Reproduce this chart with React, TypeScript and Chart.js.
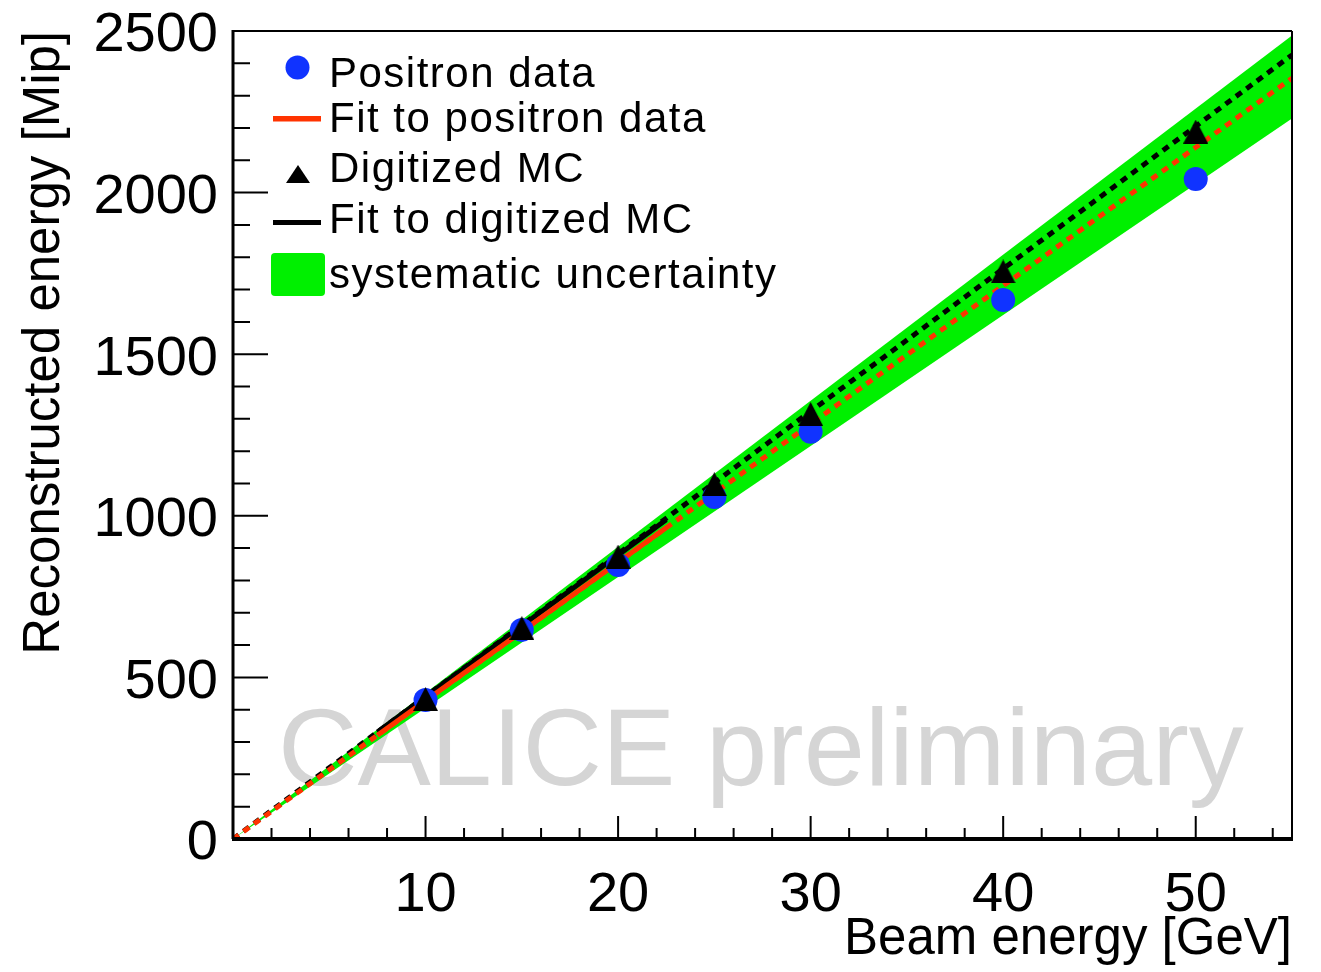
import React, { useEffect, useRef } from 'react';
import { Chart, registerables } from 'chart.js';

Chart.register(...registerables);

// ---- data ----
const beamEnergy = [10, 15, 20, 25, 30, 40, 50];
const positronData = [430, 647, 848, 1058, 1260, 1668, 2042];
const mcData = [433, 653, 874, 1098, 1315, 1756, 2189];

// fit lines (end points)
const fitSolidX = [7.5, 22.5];
const positronFitSolid = [321, 963];
const mcFitSolid = [331, 988];
const fitExtrapX = [0, 55];
const positronFitExtrap = [0, 2354];
const mcFitExtrap = [0, 2426];

// systematic uncertainty band (edges)
const bandX = [0, 55];
const bandUpper = [0, 2486];
const bandLower = [0, 2229];

const xMin = 0;
const xMax = 55;
const yMin = 0;
const yMax = 2500;
const xMajorStep = 10;
const xMinorStep = 2;
const yMajorStep = 500;
const yMinorStep = 100;

const legendLabels = [
  'Positron data',
  'Fit to positron data',
  'Digitized MC',
  'Fit to digitized MC',
  'systematic uncertainty',
];
const xTitle = 'Beam energy [GeV]';
const yTitle = 'Reconstructed energy [Mip]';
const watermark = 'CALICE preliminary';

const FONT = '"Liberation Sans", Arial, Helvetica, sans-serif';
const BLUE = '#1033ff';
const RED = '#ff3300';
const GREEN = '#00f000';

const pts = (xs: number[], ys: number[]) => xs.map((x, i) => ({ x, y: ys[i] }));

function makeTriangle(): HTMLCanvasElement {
  const c = document.createElement('canvas');
  c.width = 25;
  c.height = 24;
  const g = c.getContext('2d')!;
  g.fillStyle = '#000';
  g.beginPath();
  g.moveTo(12.5, 0);
  g.lineTo(25, 24);
  g.lineTo(0, 24);
  g.closePath();
  g.fill();
  return c;
}

const decorPlugin = {
  id: 'rootDecor',
  beforeDatasetsDraw(chart: any) {
    const { ctx, chartArea } = chart;
    ctx.save();
    ctx.font = `110px ${FONT}`;
    ctx.fillStyle = '#d5d5d5';
    ctx.textBaseline = 'alphabetic';
    ctx.textAlign = 'left';
    ctx.fillText(watermark, chartArea.left + 45, chartArea.bottom - 54);
    ctx.restore();
  },
  afterDatasetsDraw(chart: any) {
    const { ctx, chartArea } = chart;
    const xs = chart.scales.x;
    const ys = chart.scales.y;
    const { left, right, top, bottom } = chartArea;
    ctx.save();
    ctx.strokeStyle = '#000';
    ctx.lineCap = 'butt';
    // ticks
    ctx.lineWidth = 2;
    ctx.beginPath();
    for (let v = yMin + yMinorStep; v < yMax; v += yMinorStep) {
      const p = ys.getPixelForValue(v);
      const len = v % yMajorStep === 0 ? 35 : 17;
      ctx.moveTo(left, p);
      ctx.lineTo(left + len, p);
    }
    for (let v = xMin + xMinorStep; v < xMax; v += xMinorStep) {
      const p = xs.getPixelForValue(v);
      const len = v % xMajorStep === 0 ? 23 : 11;
      ctx.moveTo(p, bottom);
      ctx.lineTo(p, bottom - len);
    }
    ctx.stroke();
    // frame
    ctx.lineWidth = 2;
    ctx.beginPath();
    ctx.moveTo(left, top);
    ctx.lineTo(right, top);
    ctx.moveTo(right, top);
    ctx.lineTo(right, bottom);
    ctx.stroke();
    ctx.lineWidth = 3;
    ctx.beginPath();
    ctx.moveTo(left, top - 1);
    ctx.lineTo(left, bottom);
    ctx.stroke();
    ctx.lineWidth = 4;
    ctx.beginPath();
    ctx.moveTo(left - 1, bottom);
    ctx.lineTo(right + 1, bottom);
    ctx.stroke();

    // legend
    const baselines = [87, 132, 182, 233, 288];
    ctx.font = `42px ${FONT}`;
    (ctx as any).letterSpacing = '1.5px';
    ctx.fillStyle = '#000';
    ctx.textBaseline = 'alphabetic';
    ctx.textAlign = 'left';
    legendLabels.forEach((t, i) => ctx.fillText(t, 329, baselines[i]));
    (ctx as any).letterSpacing = '0px';
    // markers
    ctx.fillStyle = BLUE;
    ctx.beginPath();
    ctx.arc(297.5, 67.5, 12, 0, Math.PI * 2);
    ctx.fill();
    ctx.fillStyle = RED;
    ctx.fillRect(273, 116, 48, 5.5);
    ctx.fillStyle = '#000';
    ctx.beginPath();
    ctx.moveTo(298, 165);
    ctx.lineTo(310, 183);
    ctx.lineTo(286, 183);
    ctx.closePath();
    ctx.fill();
    ctx.fillRect(273, 220, 48, 5);
    ctx.fillStyle = GREEN;
    ctx.beginPath();
    (ctx as any).roundRect(271, 253, 54, 43, 4);
    ctx.fill();
    ctx.restore();
  },
};

export default function App() {
  const ref = useRef<HTMLCanvasElement | null>(null);

  useEffect(() => {
    if (!ref.current) return;
    const tri = makeTriangle();
    const chart = new Chart(ref.current, {
      type: 'scatter',
      data: {
        datasets: [
          {
            label: 'band upper',
            data: pts(bandX, bandUpper),
            showLine: true,
            borderWidth: 0,
            borderColor: GREEN,
            pointRadius: 0,
            fill: false,
            order: 20,
          },
          {
            label: legendLabels[4],
            data: pts(bandX, bandLower),
            showLine: true,
            borderWidth: 0,
            borderColor: GREEN,
            backgroundColor: GREEN,
            pointRadius: 0,
            fill: '-1',
            order: 19,
          },
          {
            label: 'MC fit extrapolation',
            data: pts(fitExtrapX, mcFitExtrap),
            showLine: true,
            borderColor: '#000',
            borderWidth: 5,
            borderDash: [7, 6],
            pointRadius: 0,
            order: 16,
          },
          {
            label: 'positron fit extrapolation',
            data: pts(fitExtrapX, positronFitExtrap),
            showLine: true,
            borderColor: RED,
            borderWidth: 5,
            borderDash: [7, 6],
            pointRadius: 0,
            order: 15,
          },
          {
            label: legendLabels[3],
            data: pts(fitSolidX, mcFitSolid),
            showLine: true,
            borderColor: '#000',
            borderWidth: 5,
            pointRadius: 0,
            order: 14,
          },
          {
            label: legendLabels[1],
            data: pts(fitSolidX, positronFitSolid),
            showLine: true,
            borderColor: RED,
            borderWidth: 5,
            pointRadius: 0,
            order: 13,
          },
          {
            label: legendLabels[0],
            data: pts(beamEnergy, positronData),
            pointStyle: 'circle',
            pointRadius: 12,
            pointBackgroundColor: BLUE,
            pointBorderWidth: 0,
            order: 5,
          },
          {
            label: legendLabels[2],
            data: pts(beamEnergy, mcData),
            pointStyle: tri as any,
            pointRadius: 12,
            pointBorderWidth: 0,
            order: 4,
          },
        ],
      },
      options: {
        animation: false,
        responsive: true,
        maintainAspectRatio: false,
        layout: { padding: { top: 31, right: 29, left: 0, bottom: 0 } },
        plugins: {
          legend: { display: false },
          tooltip: { enabled: false },
        },
        scales: {
          x: {
            type: 'linear',
            min: xMin,
            max: xMax,
            grid: { display: false },
            border: { display: false },
            ticks: {
              stepSize: xMajorStep,
              includeBounds: false,
              autoSkip: false,
              maxRotation: 0,
              padding: 15,
              color: '#000',
              font: { family: FONT, size: 56, lineHeight: 1.2 },
              callback: (v: any) => (Number(v) === 0 ? '' : String(v)),
            },
            title: {
              display: true,
              text: xTitle,
              align: 'end',
              color: '#000',
              font: { family: FONT, size: 51, lineHeight: 1.2 },
              padding: { top: 0, bottom: 1 },
            },
            afterFit: (s: any) => {
              s.height = 133;
              s.paddingLeft = 0;
              s.paddingRight = 0;
            },
          },
          y: {
            type: 'linear',
            min: yMin,
            max: yMax,
            grid: { display: false },
            border: { display: false },
            ticks: {
              stepSize: yMajorStep,
              padding: 7,
              labelOffset: 5,
              color: '#000',
              font: { family: FONT, size: 56, lineHeight: 1.2 },
              callback: (v: any) => String(v),
            },
            title: {
              display: true,
              text: yTitle,
              align: 'end',
              color: '#000',
              font: { family: FONT, size: 51, lineHeight: 1.2 },
              padding: { top: 14, bottom: 0 },
            },
            afterFit: (s: any) => {
              s.width = 233;
              s.paddingTop = 0;
              s.paddingBottom = 0;
            },
          },
        },
      } as any,
      plugins: [decorPlugin],
    });
    return () => chart.destroy();
  }, []);

  return (
    <div style={{ position: 'fixed', left: 0, top: 0, width: 1321, height: 972, background: '#fff' }}>
      <canvas ref={ref} />
    </div>
  );
}
